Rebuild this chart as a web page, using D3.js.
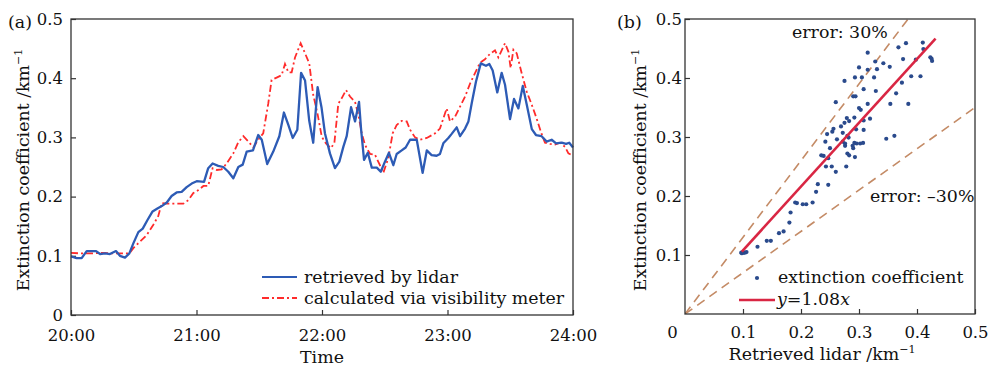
<!DOCTYPE html>
<html>
<head>
<meta charset="utf-8">
<script src="https://cdn.jsdelivr.net/npm/d3@7"></script>
<style>
  body { margin: 0; background: #fff; }
  text { font-family: "DejaVu Serif", "Liberation Serif", serif; fill: #111; }
</style>
</head>
<body>
<svg id="chart" width="989" height="366"></svg>
<script>
// ---- panel (a) : time series, minutes after 20:00 ----
const lidarTime = [0,2.7,5.1,7.5,9.9,12.0,13.9,16.3,18.6,21.5,23.4,25.8,27.9,29.8,32.2,34.3,36.5,39.0,41.3,43.4,45.8,48.1,50.5,52.9,55.3,57.7,60.1,63.6,65.6,67.7,70.4,72.8,75.2,77.6,80.0,82.1,84.0,87.0,89.5,91.2,93.8,96.7,99.6,101.8,103.9,106.0,108.2,110.0,111.9,113.9,115.8,117.9,119.8,121.4,123.8,126.2,128.3,130.2,131.8,133.9,135.8,137.7,138.7,140.1,141.9,143.8,146.2,148.1,150.1,152.0,154.1,155.7,158.1,160.0,162.1,165.3,168.1,170.1,172.4,174.8,176.4,178.0,180.4,182.0,184.4,186.0,188.4,190.0,191.6,193.6,195.9,198.4,200.0,201.6,203.8,205.9,207.5,209.9,211.8,213.9,216.0,217.9,220.3,222.3,225.0,227.4,229.8,231.9,234.6,236.7,238.2,240];
const lidarValue = [0.099,0.096,0.096,0.108,0.108,0.108,0.103,0.104,0.103,0.108,0.100,0.097,0.104,0.121,0.140,0.146,0.160,0.175,0.180,0.184,0.190,0.201,0.207,0.208,0.216,0.222,0.226,0.225,0.248,0.256,0.252,0.250,0.242,0.231,0.250,0.254,0.276,0.278,0.304,0.296,0.255,0.276,0.302,0.342,0.321,0.299,0.313,0.409,0.396,0.328,0.291,0.385,0.350,0.307,0.273,0.248,0.259,0.284,0.302,0.351,0.327,0.360,0.313,0.262,0.274,0.249,0.249,0.242,0.259,0.274,0.253,0.272,0.278,0.283,0.296,0.296,0.240,0.278,0.270,0.269,0.272,0.290,0.299,0.306,0.317,0.302,0.315,0.327,0.358,0.394,0.425,0.421,0.424,0.413,0.376,0.409,0.389,0.331,0.365,0.349,0.387,0.355,0.314,0.304,0.302,0.293,0.296,0.290,0.291,0.289,0.291,0.283];

const meterTime = [0,5,10,15,20,25,27.9,29.8,33.0,36.2,39.3,41.7,43.4,45.8,48.9,53.7,56.1,58.5,60.9,63.3,65.6,67.7,69.7,72.0,74.4,77.6,80.0,82.4,84.8,87.2,89.5,91.9,94.3,95.9,98.3,100.7,102.3,103.9,105.5,107.1,109.8,111.9,113.9,115.8,117.8,119.9,121.9,124.2,125.9,127.8,129.4,131.5,133.4,135.8,137.4,139.0,140.6,143.0,145.3,147.7,149.3,151.7,153.8,155.7,158.1,160.5,162.1,164.5,166.9,170.1,174.1,176.4,179.6,181.2,183.6,186.0,188.4,190.8,193.1,195.5,197.9,200.3,202.7,204.3,207.5,209.1,210.2,211.5,213.1,215.5,217.9,220.3,222.6,224.6,226.6,229.0,231.4,233.8,236.2,237.8,240];
const meterValue = [0.105,0.104,0.104,0.105,0.104,0.104,0.104,0.113,0.124,0.135,0.152,0.167,0.189,0.188,0.188,0.188,0.194,0.206,0.211,0.218,0.218,0.248,0.245,0.246,0.256,0.273,0.292,0.302,0.293,0.283,0.296,0.307,0.357,0.397,0.401,0.405,0.424,0.410,0.410,0.435,0.459,0.442,0.425,0.372,0.341,0.301,0.290,0.282,0.290,0.357,0.366,0.380,0.369,0.360,0.338,0.307,0.287,0.272,0.271,0.253,0.240,0.265,0.307,0.321,0.328,0.327,0.313,0.300,0.296,0.299,0.307,0.315,0.349,0.327,0.335,0.352,0.369,0.391,0.408,0.426,0.432,0.441,0.447,0.435,0.459,0.445,0.417,0.448,0.442,0.408,0.377,0.355,0.332,0.310,0.291,0.289,0.288,0.291,0.284,0.273,0.269];

const timeTicks = [0, 60, 120, 180, 240];
const timeLabels = ["20:00", "21:00", "22:00", "23:00", "24:00"];
const valueTicks = [0, 0.1, 0.2, 0.3, 0.4, 0.5];

// ---- panel (b) : scatter lidar vs visibility meter ----
const scatterLidar = [0.410,0.411,0.381,0.368,0.423,0.426,0.425,0.315,0.328,0.342,0.353,0.376,0.398,0.300,0.331,0.315,0.275,0.293,0.305,0.326,0.374,0.390,0.406,0.308,0.329,0.364,0.290,0.294,0.260,0.315,0.354,0.385,0.300,0.303,0.279,0.292,0.308,0.319,0.275,0.283,0.269,0.256,0.254,0.295,0.308,0.272,0.280,0.245,0.242,0.262,0.272,0.276,0.282,0.292,0.296,0.302,0.307,0.289,0.290,0.250,0.276,0.280,0.283,0.293,0.235,0.239,0.247,0.347,0.361,0.243,0.253,0.260,0.278,0.229,0.226,0.247,0.190,0.193,0.203,0.209,0.220,0.182,0.180,0.170,0.162,0.148,0.141,0.125,0.101,0.103,0.106,0.098,0.097];
const scatterMeter = [0.460,0.449,0.459,0.452,0.435,0.429,0.433,0.443,0.428,0.425,0.419,0.432,0.431,0.418,0.415,0.414,0.395,0.401,0.401,0.401,0.392,0.403,0.403,0.381,0.378,0.374,0.369,0.369,0.359,0.356,0.356,0.356,0.349,0.346,0.332,0.333,0.328,0.331,0.324,0.327,0.318,0.314,0.309,0.313,0.312,0.307,0.302,0.305,0.292,0.296,0.292,0.289,0.299,0.290,0.289,0.289,0.290,0.285,0.281,0.281,0.285,0.272,0.269,0.266,0.269,0.268,0.264,0.297,0.302,0.250,0.250,0.241,0.250,0.220,0.207,0.219,0.189,0.188,0.186,0.186,0.189,0.172,0.155,0.140,0.137,0.124,0.124,0.114,0.104,0.104,0.105,0.103,0.104];

const fitSlope = 1.08;
const fitRange = [0.098, 0.432];
const errorSlopes = [1.3, 0.7];
const ratioTicks = [0, 0.1, 0.2, 0.3, 0.4, 0.5];

const blue = "#2d5bb5", red = "#ff2b2b", fitRed = "#d92643", dot = "#2a4a8c", tan = "#c48b66";
const svg = d3.select("#chart");
const fs = 17.4;    // words
const tfs = 16.5;   // tick numbers

function box(x0, y0, x1, y1) {
  svg.append("rect")
    .attr("x", x0).attr("y", y0)
    .attr("width", x1 - x0).attr("height", y1 - y0)
    .attr("fill", "none").attr("stroke", "#333").attr("stroke-width", 1.3);
}

function styleAxis(g) {
  g.select(".domain").remove();
  g.selectAll(".tick line").attr("stroke", "#333").attr("stroke-width", 1.2);
  g.selectAll(".tick text").style("font-size", tfs + "px").attr("fill", "#111");
}

function ylabel(x, y, main) {
  const t = svg.append("text")
    .attr("transform", `translate(${x},${y}) rotate(-90)`)
    .attr("text-anchor", "middle")
    .style("font-size", fs + "px");
  t.append("tspan").text(main);
  t.append("tspan").attr("dy", -7).style("font-size", "11px").text("−1");
  return t;
}

// ================= panel (a) =================
const xa = d3.scaleLinear().domain([0, 240]).range([71, 573]);
const ya = d3.scaleLinear().domain([0, 0.5]).range([315, 19]);

svg.append("g").attr("transform", "translate(0,315)")
  .call(d3.axisBottom(xa).tickValues(timeTicks).tickSize(-5).tickPadding(14)
    .tickFormat((d, i) => timeLabels[i]))
  .call(styleAxis);
svg.append("g").attr("transform", "translate(71,0)")
  .call(d3.axisLeft(ya).tickValues(valueTicks).tickSize(-5).tickPadding(8)
    .tickFormat(d => d === 0 ? "0" : d3.format(".1f")(d)))
  .call(styleAxis);

const lineA = d3.line().x(d => xa(d[0])).y(d => ya(d[1]));
svg.append("path")
  .datum(d3.zip(meterTime, meterValue))
  .attr("d", lineA).attr("fill", "none")
  .attr("stroke", red).attr("stroke-width", 1.8)
  .attr("stroke-dasharray", "7,3,2,3");
svg.append("path")
  .datum(d3.zip(lidarTime, lidarValue))
  .attr("d", lineA).attr("fill", "none")
  .attr("stroke", blue).attr("stroke-width", 2.3)
  .attr("stroke-linejoin", "round");

box(71, 19, 573, 315);

// legend (a)
svg.append("line").attr("x1", 262).attr("x2", 297).attr("y1", 277).attr("y2", 277)
  .attr("stroke", blue).attr("stroke-width", 2.2);
svg.append("text").attr("x", 304).attr("y", 283).style("font-size", fs + "px").text("retrieved by lidar");
svg.append("line").attr("x1", 262).attr("x2", 297).attr("y1", 298).attr("y2", 298)
  .attr("stroke", red).attr("stroke-width", 1.8).attr("stroke-dasharray", "7,3,2,3");
svg.append("text").attr("x", 304).attr("y", 304).style("font-size", fs + "px").text("calculated via visibility meter");

svg.append("text").attr("x", 8).attr("y", 28).style("font-size", fs + "px").text("(a)");
svg.append("text").attr("x", 322).attr("y", 363).attr("text-anchor", "middle")
  .style("font-size", fs + "px").text("Time");
ylabel(29, 170, "Extinction coefficient /km");

// ================= panel (b) =================
const xb = d3.scaleLinear().domain([0, 0.5]).range([685, 975]);
const yb = d3.scaleLinear().domain([0, 0.5]).range([314, 19]);

const gxb = svg.append("g").attr("transform", "translate(0,314)")
  .call(d3.axisBottom(xb).tickValues(ratioTicks).tickSize(-5).tickPadding(12)
    .tickFormat(d => d === 0 ? "0" : d3.format(".1f")(d)))
  .call(styleAxis);
gxb.selectAll(".tick text").filter(d => d === 0).attr("dx", -13);
gxb.selectAll(".tick line").filter(d => d === 0).remove();
svg.append("g").attr("transform", "translate(685,0)")
  .call(d3.axisLeft(yb).tickValues(ratioTicks.slice(1)).tickSize(-5).tickPadding(3)
    .tickFormat(d3.format(".1f")))
  .call(styleAxis);

svg.append("clipPath").attr("id", "clipb")
  .append("rect").attr("x", 685).attr("y", 19).attr("width", 290).attr("height", 295);

const lineB = d3.line().x(d => xb(d[0])).y(d => yb(d[1]));
svg.append("g").attr("clip-path", "url(#clipb)")
  .selectAll("path.err").data(errorSlopes).join("path")
  .attr("class", "err")
  .attr("d", k => lineB([[0, 0], [0.5, 0.5 * k]]))
  .attr("fill", "none").attr("stroke", tan).attr("stroke-width", 1.6)
  .attr("stroke-dasharray", "9,6");

svg.append("g").selectAll("circle")
  .data(d3.zip(scatterLidar, scatterMeter)).join("circle")
  .attr("cx", d => xb(d[0])).attr("cy", d => yb(d[1])).attr("r", 2.1)
  .attr("fill", dot);

svg.append("path")
  .datum(fitRange.map(v => [v, v * fitSlope]))
  .attr("d", lineB).attr("fill", "none")
  .attr("stroke", fitRed).attr("stroke-width", 2.6);

box(685, 19, 975, 314);

svg.append("text").attr("x", 792).attr("y", 38).style("font-size", fs + "px").text("error: 30%");
svg.append("text").attr("x", 870).attr("y", 202).style("font-size", fs + "px").text("error: –30%");

// legend (b)
svg.append("circle").attr("cx", 757).attr("cy", 278).attr("r", 2.1).attr("fill", dot);
svg.append("text").attr("x", 778).attr("y", 283).style("font-size", fs + "px").text("extinction coefficient");
svg.append("line").attr("x1", 739).attr("x2", 775).attr("y1", 300).attr("y2", 300)
  .attr("stroke", fitRed).attr("stroke-width", 2.6);
const fitLabel = svg.append("text").attr("x", 777).attr("y", 305).style("font-size", fs + "px");
fitLabel.append("tspan").style("font-style", "italic").text("y");
fitLabel.append("tspan").text("=1.08");
fitLabel.append("tspan").style("font-style", "italic").text("x");

svg.append("text").attr("x", 617).attr("y", 28).style("font-size", fs + "px").text("(b)");
svg.append("text").attr("x", 822).attr("y", 360).attr("text-anchor", "middle")
  .style("font-size", fs + "px").text("Retrieved lidar /km")
  .append("tspan").attr("dy", -7).style("font-size", "11px").text("−1");
ylabel(646, 170, "Extinction coefficient /km");
</script>
</body>
</html>
